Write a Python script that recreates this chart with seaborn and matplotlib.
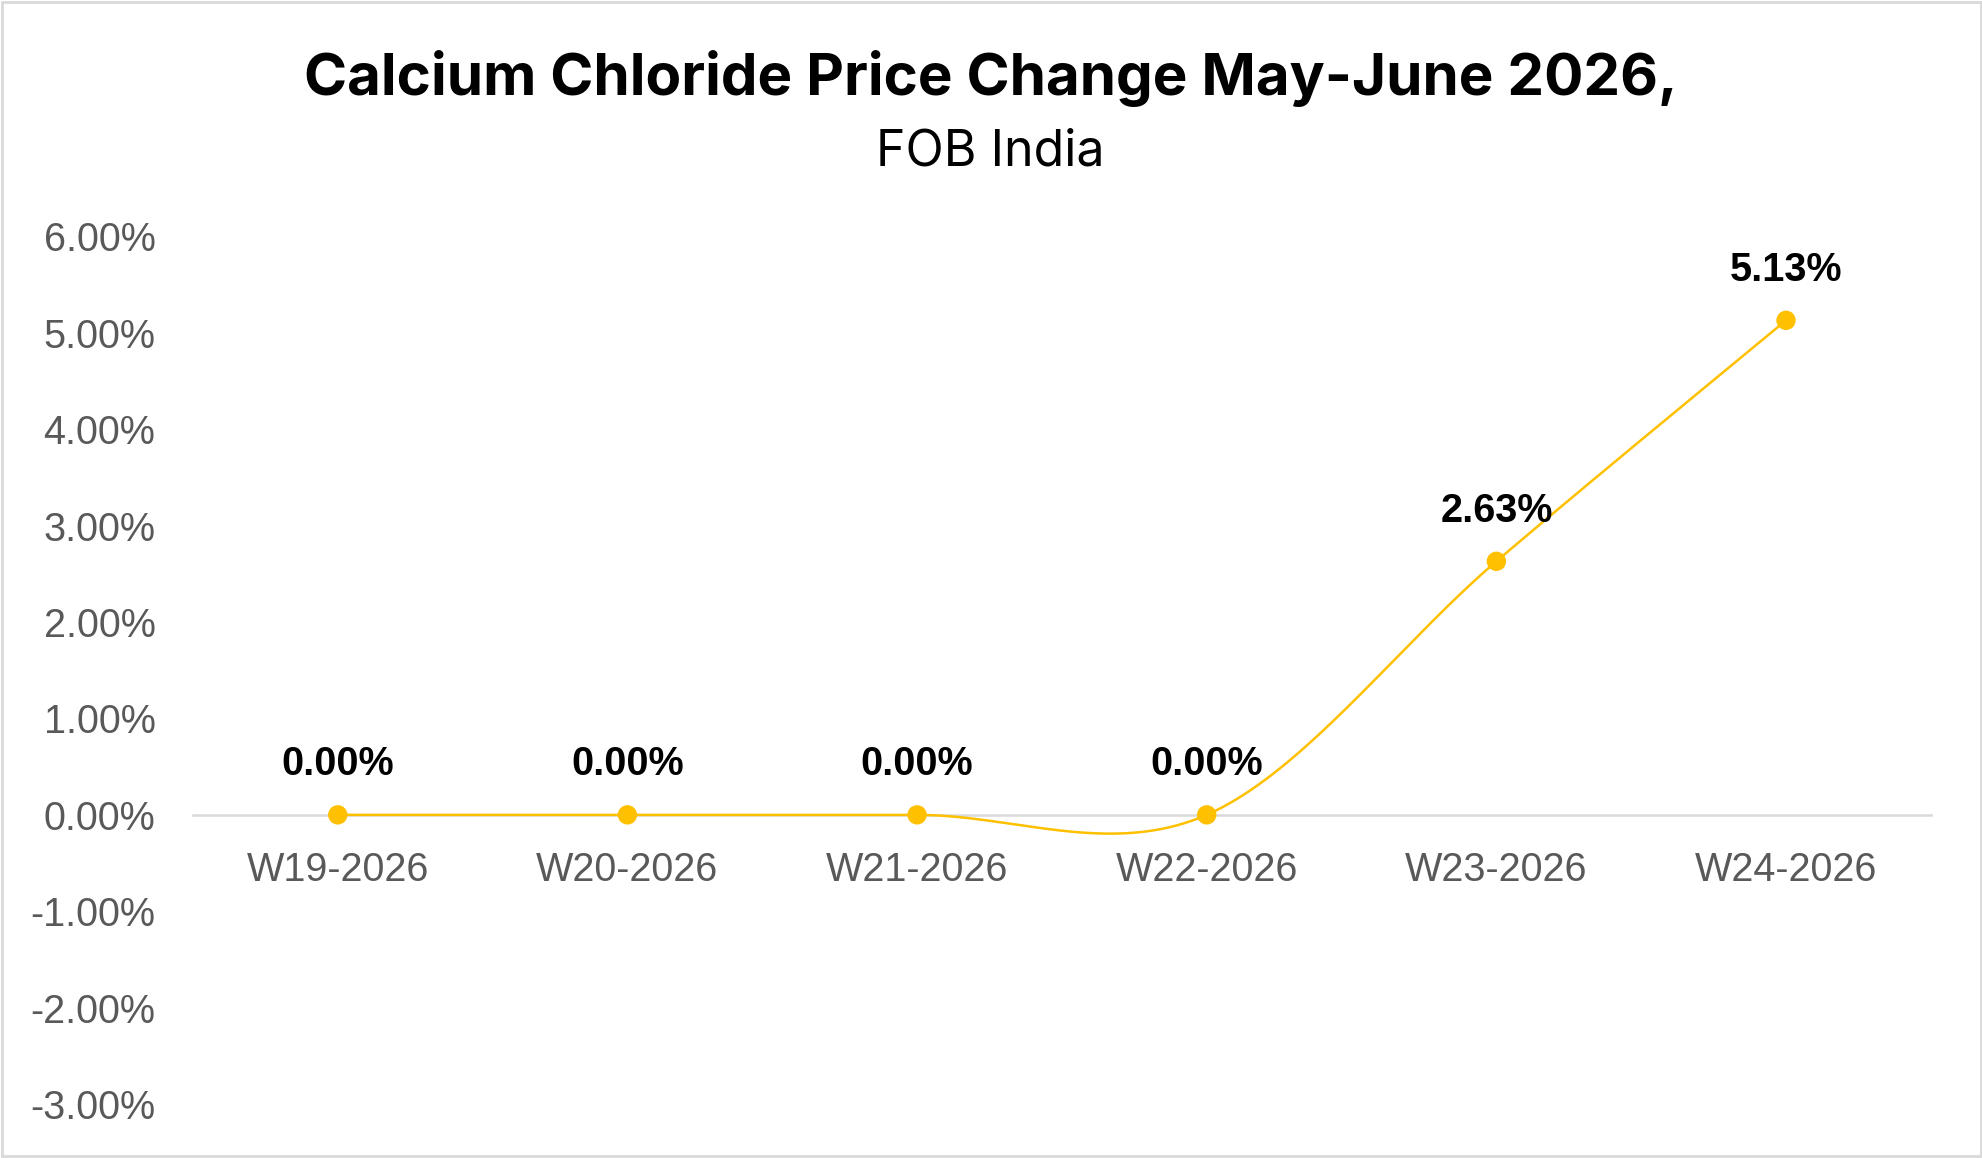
import numpy as np
import pandas as pd
import matplotlib
matplotlib.use('Agg')
import matplotlib.pyplot as plt
import seaborn as sns
from matplotlib.patches import Rectangle
from matplotlib.ticker import FuncFormatter, MultipleLocator

# Dados do gráfico
semanas = ['W19-2026', 'W20-2026', 'W21-2026', 'W22-2026', 'W23-2026', 'W24-2026']
variacao = [0.00, 0.00, 0.00, 0.00, 2.63, 5.13]

titulo = 'Calcium Chloride Price Change May-June 2026,'
subtitulo = 'FOB India'

cor_linha = '#FFC000'
cinza = '#595959'


# Suavização no estilo do Excel (Bezier com pontos de controle de Catmull-Rom)
def suavizar(x, y, n=80):
    px = np.asarray(x, dtype=float)
    py = np.asarray(y, dtype=float)
    t = np.linspace(0, 1, n)
    xs, ys = [], []
    for i in range(len(px) - 1):
        a = max(i - 1, 0)
        b = min(i + 2, len(px) - 1)
        c1x = px[i] + (px[i + 1] - px[a]) / 6
        c1y = py[i] + (py[i + 1] - py[a]) / 6
        c2x = px[i + 1] - (px[b] - px[i]) / 6
        c2y = py[i + 1] - (py[b] - py[i]) / 6
        bx = (1 - t) ** 3 * px[i] + 3 * (1 - t) ** 2 * t * c1x + 3 * (1 - t) * t ** 2 * c2x + t ** 3 * px[i + 1]
        by = (1 - t) ** 3 * py[i] + 3 * (1 - t) ** 2 * t * c1y + 3 * (1 - t) * t ** 2 * c2y + t ** 3 * py[i + 1]
        xs.extend(bx)
        ys.extend(by)
    return np.array(xs), np.array(ys)


df = pd.DataFrame({'semana': semanas, 'variacao': variacao})
df['pos'] = range(len(df))

cx, cy = suavizar(df['pos'], df['variacao'])
curva = pd.DataFrame({'x': cx, 'y': cy})

sns.set_style('white')
plt.rcParams['font.family'] = ['Liberation Sans', 'DejaVu Sans']

fig = plt.figure(figsize=(19.83, 11.58), dpi=100)
ax = fig.add_axes([0.0973, 0.0466, 0.8764, 0.7492])

sns.lineplot(data=curva, x='x', y='y', sort=False, estimator=None,
             color=cor_linha, linewidth=1.8, ax=ax, zorder=2)
sns.scatterplot(data=df, x='pos', y='variacao', s=195, color=cor_linha,
                edgecolor='none', ax=ax, zorder=3)

for _, linha in df.iterrows():
    ax.annotate(f"{linha['variacao']:.2f}%", (linha['pos'], linha['variacao']),
                xytext=(0, 36.5), textcoords='offset points', ha='center', va='center',
                fontsize=28.5, fontweight='bold', color='black')

ax.set_xlim(-0.5, len(df) - 0.5)
ax.set_ylim(-3, 6)
ax.yaxis.set_major_locator(MultipleLocator(1))
ax.yaxis.set_major_formatter(FuncFormatter(lambda v, _: f'{v:.2f}%'))
ax.set_xticks(df['pos'])
ax.set_xticklabels(df['semana'])
ax.set_xlabel('')
ax.set_ylabel('')

for lado in ['top', 'right', 'left']:
    ax.spines[lado].set_visible(False)
ax.spines['bottom'].set_position(('data', 0))
ax.spines['bottom'].set_color('#D9D9D9')
ax.spines['bottom'].set_linewidth(1.8)
ax.spines['bottom'].set_zorder(1)

ax.tick_params(axis='x', length=0, pad=26, labelsize=28.5, labelcolor=cinza)
ax.tick_params(axis='y', length=0, pad=27, labelsize=28.5, labelcolor=cinza)

fig.text(0.4995, 0.932, titulo, ha='center', va='center', fontsize=42,
         fontweight='bold', color='black', family=['Inter', 'DejaVu Sans'])
fig.text(0.4995, 0.869, subtitulo, ha='center', va='center', fontsize=36,
         color='black', family=['Inter', 'DejaVu Sans'])

fig.add_artist(Rectangle((0.0008, 0.0013), 0.9984, 0.9974, transform=fig.transFigure,
                         fill=False, edgecolor='#D9D9D9', linewidth=2))

fig.savefig('out.png', dpi=100, facecolor='white')
